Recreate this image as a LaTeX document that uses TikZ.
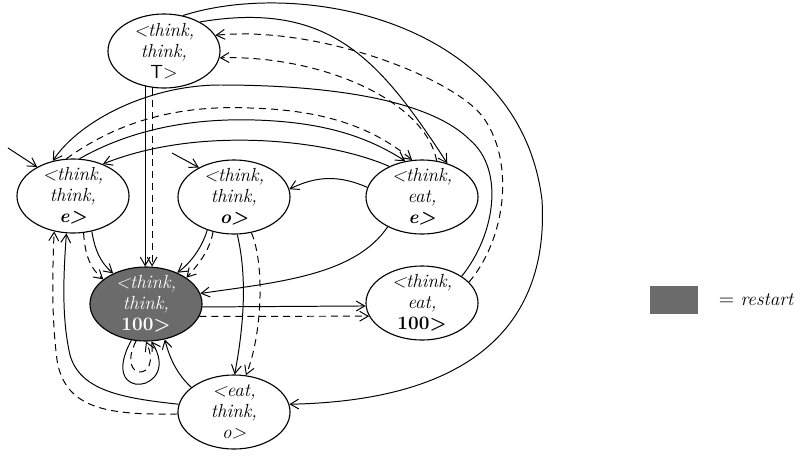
\documentclass[tikz,border=0pt]{standalone}
\usetikzlibrary{shapes.geometric,arrows.meta}

\begin{document}
\begin{tikzpicture}
  [x=0.025cm,y=-0.025cm,
   state/.style={ellipse,draw,line width=0.8pt,minimum width=2.8cm,minimum height=1.85cm,
     inner xsep=0pt,inner ysep=-10pt,align=center,font=\fontsize{13.5}{15}\selectfont\itshape},
   rst/.style={fill=black!58,text=white},
   tr/.style={line width=0.7pt,-{Straight Barb[length=6pt,width=7pt]}},
   dtr/.style={tr,dash pattern=on 5pt off 3.5pt}]
  \useasboundingbox (0,0) rectangle (802,455);

  \node[state] (T) at (164,51) {<think,\\think,\\\textsf{\upshape T>}};
  \node[state] (E) at (73,196) {<think,\\think,\\\textbf{e>}};
  \node[state] (O) at (234,197) {<think,\\think,\\\textbf{o>}};
  \node[state] (TE) at (422,197) {<think,\\eat,\\\textbf{e>}};
  \node[state,rst] (R) at (146,304) {<think,\\think,\\\textbf{\upshape 100>}};
  \node[state] (T100) at (422,303) {<think,\\eat,\\\textbf{\upshape 100>}};
  \node[state] (EO) at (234,412) {<eat,\\think,\\o>};

  % legend
  \node[rectangle,rst,minimum width=1.2cm,minimum height=0.68cm] (key) at (674,300) {};
  \node[anchor=west,font=\fontsize{13.5}{15}\selectfont] (keytext) at (714,300) {$=$\ \textit{restart}};

  % start states
  \coordinate (inE) at (8,148);
  \coordinate (inO) at (172,153);
  \draw[tr] (inE) -- (E.141);
  \draw[tr] (inO) -- (O.140);

  % from <think,think,T>
  \draw[tr] (T.-118) -- (T.-118 |- R.north);
  \draw[dtr] (T.-108) -- (T.-108 |- R.north);
  \draw[tr] (T.62) .. controls (300,-22) and (520,20) .. (542,200)
    .. controls (548,300) and (500,400) .. (EO.8);
  \draw[tr] (T.39) .. controls (330,0) and (380,60) .. (TE.53);

  % back to <think,think,T>
  \draw[dtr] (TE.68) .. controls (425,100) and (320,55) .. (T.-7);
  \draw[dtr] (T100.24) .. controls (505,240) and (515,165) .. (485,120)
    .. controls (460,80) and (320,25) .. (T.17);

  % between e states
  \draw[tr] (T100.34) .. controls (495,235) and (505,170) .. (470,140)
    .. controls (425,95) and (310,85) .. (220,85)
    .. controls (150,85) and (80,120) .. (E.120);
  \draw[dtr] (E.100) .. controls (120,120) and (180,105) .. (250,108)
    .. controls (320,110) and (370,125) .. (TE.105);
  \draw[tr] (E.80) .. controls (130,130) and (190,118) .. (255,120)
    .. controls (320,122) and (365,135) .. (TE.115);
  \draw[tr] (TE.137) .. controls (330,140) and (200,125) .. (E.47);
  \draw[tr] (TE.170) to[bend right=25] (O.8);
  \draw[tr] (TE.221) .. controls (355,275) and (280,282) .. (R.11);

  % restart
  \draw[tr] (R.-3) -- (T100.-177);
  \draw[dtr] (R.-13) -- (T100.-166);
  \draw[tr] (R.-112) .. controls (96,405) and (184,392) .. (R.-82);
  \draw[dtr] (R.-105) .. controls (115,382) and (164,382) .. (R.-90);

  % from <think,think,o>
  \draw[tr] (O.231) .. controls (203,245) and (192,262) .. (R.45);
  \draw[dtr] (O.239) .. controls (210,250) and (198,265) .. (R.33);
  \draw[tr] (O.-85) .. controls (248,280) and (243,330) .. (EO.89);
  \draw[dtr] (O.-64) .. controls (265,265) and (262,335) .. (EO.72);

  % from <think,think,e>
  \draw[tr] (E.-62) .. controls (95,250) and (100,262) .. (R.137);
  \draw[dtr] (E.-74) .. controls (85,255) and (90,268) .. (R.150);

  % from <eat,think,o>
  \draw[tr] (EO.172) .. controls (120,398) and (80,390) .. (70,355)
    .. controls (62,320) and (63,280) .. (E.-100);
  \draw[dtr] (EO.182) .. controls (110,415) and (65,410) .. (57,360)
    .. controls (52,320) and (52,280) .. (E.-118);
  \draw[tr] (EO.150) .. controls (178,375) and (170,360) .. (R.-62);
\end{tikzpicture}
\end{document}
